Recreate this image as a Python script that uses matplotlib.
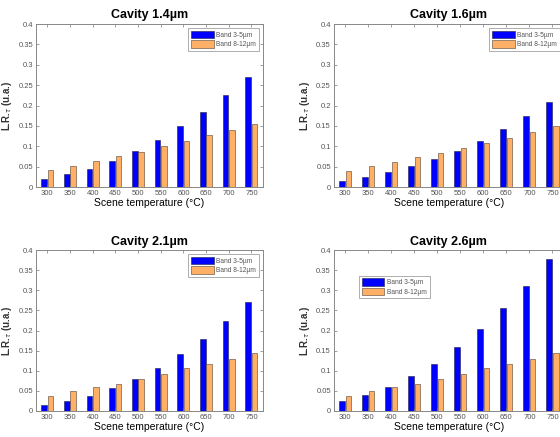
import numpy as np
import matplotlib.pyplot as plt

plt.rcParams['font.family'] = ['Liberation Sans', 'DejaVu Sans']

temps = ['300', '350', '400', '450', '500', '550', '600', '650', '700', '750']
titles = ['Cavity 1.4µm', 'Cavity 1.6µm', 'Cavity 2.1µm', 'Cavity 2.6µm']

band35 = [
    [0.020, 0.031, 0.045, 0.065, 0.088, 0.116, 0.149, 0.184, 0.225, 0.271],
    [0.016, 0.025, 0.036, 0.051, 0.069, 0.089, 0.114, 0.143, 0.175, 0.209],
    [0.014, 0.025, 0.037, 0.056, 0.079, 0.106, 0.141, 0.180, 0.223, 0.272],
    [0.025, 0.040, 0.059, 0.086, 0.118, 0.158, 0.203, 0.255, 0.312, 0.377],
]
band812 = [
    [0.041, 0.052, 0.063, 0.075, 0.086, 0.100, 0.114, 0.127, 0.141, 0.155],
    [0.039, 0.051, 0.061, 0.073, 0.084, 0.096, 0.108, 0.121, 0.136, 0.149],
    [0.037, 0.049, 0.059, 0.068, 0.080, 0.093, 0.106, 0.118, 0.130, 0.144],
    [0.037, 0.049, 0.059, 0.068, 0.080, 0.093, 0.106, 0.118, 0.130, 0.144],
]

fig = plt.figure(figsize=(5.6, 4.37), dpi=100)
positions = [
    [0.0643, 0.572, 0.405, 0.373],
    [0.596, 0.572, 0.411, 0.373],
    [0.0643, 0.0595, 0.405, 0.368],
    [0.596, 0.0595, 0.411, 0.368],
]
legend_locs = ['upper right', 'upper right', 'upper right', (0.11, 0.70)]

x = np.arange(len(temps))
yticks = np.arange(0, 0.401, 0.05)
ylabels = ['0', '0.05', '0.1', '0.15', '0.2', '0.25', '0.3', '0.35', '0.4']

for i in range(4):
    ax = fig.add_axes(positions[i])
    ax.bar(x - 0.14, band35[i], width=0.25, color='#0000ff',
           edgecolor='#202040', linewidth=0.4, label='Band 3-5µm')
    ax.bar(x + 0.14, band812[i], width=0.25, color='#ffb066',
           edgecolor='#504030', linewidth=0.4, label='Band 8-12µm')
    ax.set_xlim(-0.5, 9.5)
    ax.set_ylim(0, 0.4)
    ax.set_xticks(x)
    ax.set_xticklabels(temps)
    ax.set_yticks(yticks)
    ax.set_yticklabels(ylabels)
    ax.tick_params(direction='in', length=2, width=0.5, labelsize=5.5,
                   labelcolor='#555555', color='#777777',
                   top=True, right=True, pad=2)
    for s in ax.spines.values():
        s.set_color('#888888')
        s.set_linewidth(0.7)
    ax.set_title(titles[i], fontsize=9, fontweight='bold', pad=4)
    ax.set_xlabel('Scene temperature (°C)', fontsize=7.5, labelpad=1)
    ax.set_ylabel('L.R.$_{\\tau}$ (u.a.)', fontsize=7, labelpad=3,
                  fontweight='bold', color='#333333')
    leg = ax.legend(loc=legend_locs[i], fontsize=4.8, fancybox=False,
                    handlelength=3.4, handleheight=1.3, borderpad=0.4,
                    labelspacing=0.25, handletextpad=0.4,
                    borderaxespad=0.6)
    leg.get_frame().set_edgecolor('#888888')
    leg.get_frame().set_linewidth(0.6)
    for t in leg.get_texts():
        t.set_color('#555555')

fig.savefig('out.png', dpi=100)
